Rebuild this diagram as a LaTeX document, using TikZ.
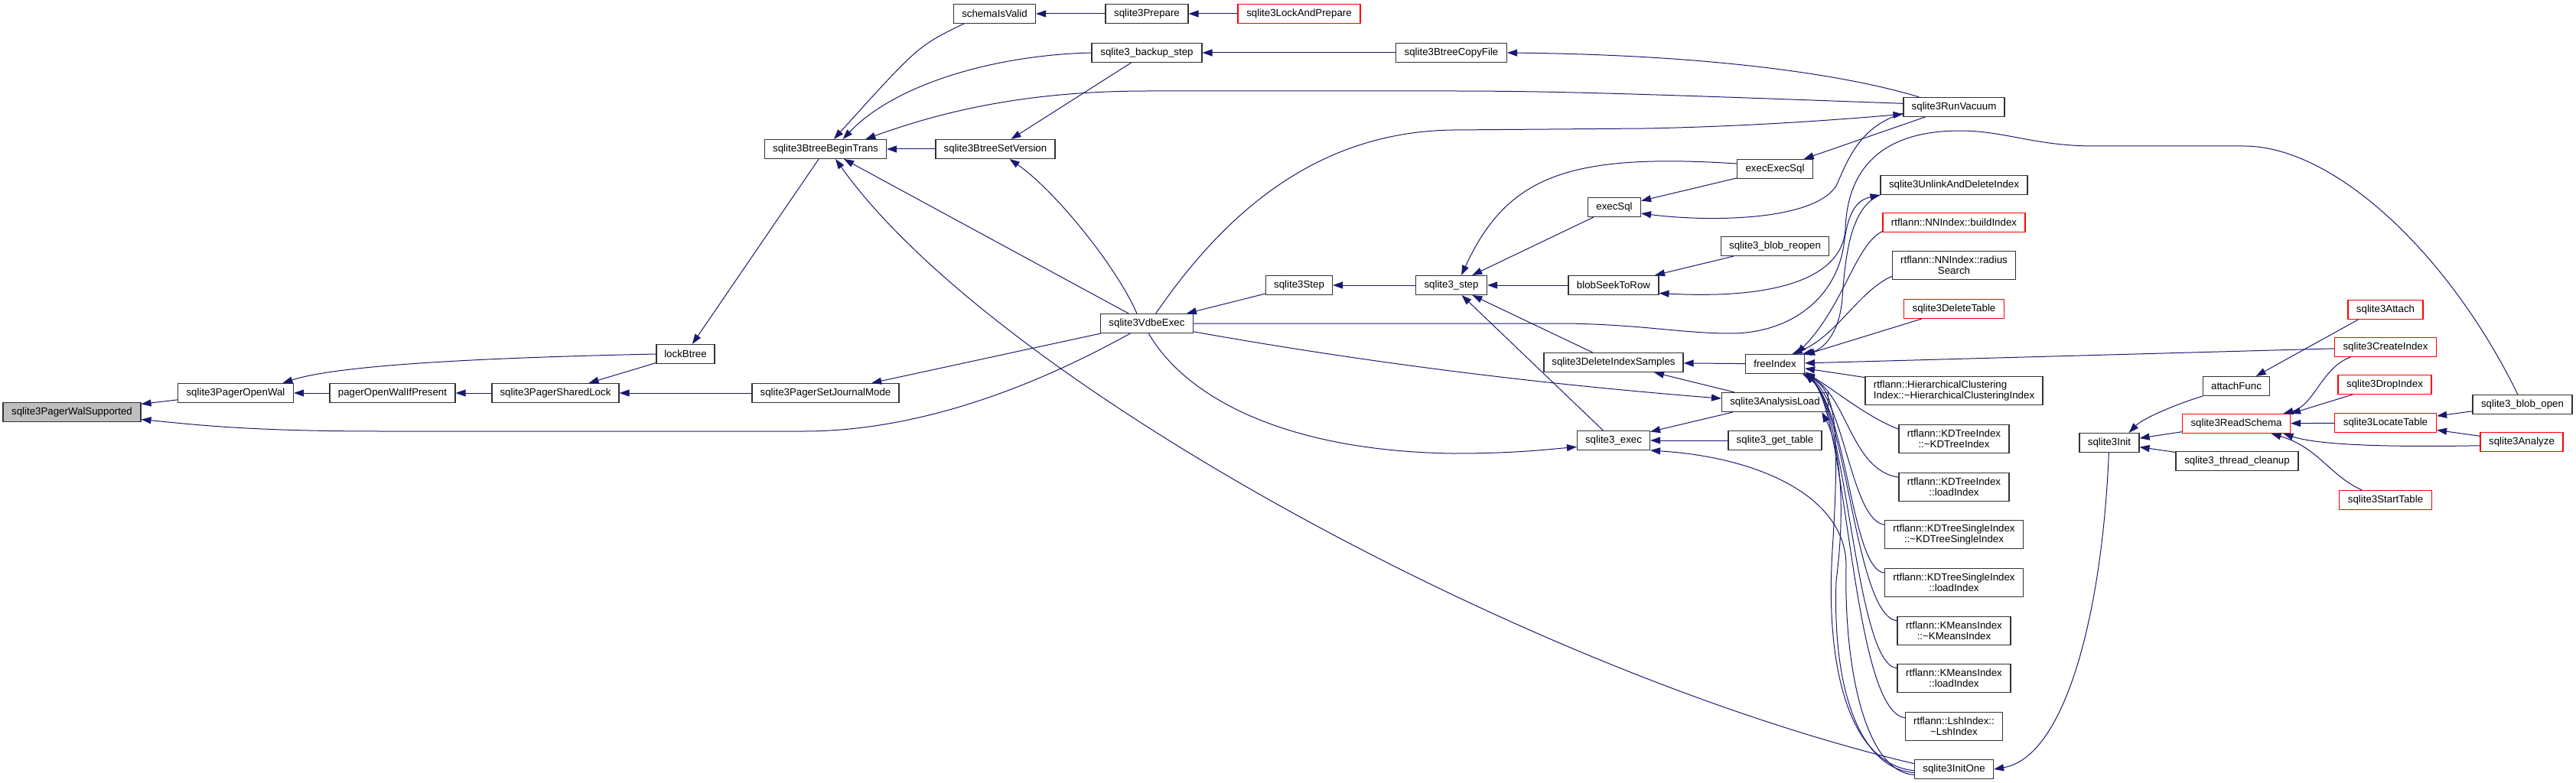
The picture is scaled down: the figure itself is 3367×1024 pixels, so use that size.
\documentclass[tikz,border=0pt]{standalone}
\usepackage{fontspec}
\setmainfont{Liberation Sans}
\usepackage{tikz}
\usetikzlibrary{arrows.meta}
\definecolor{callblue}{RGB}{25,25,112}
\newcommand\dxfont{\fontsize{13.3}{13.6}\selectfont}
\tikzset{
  fn/.style={draw=black!80,line width=1.1pt,fill=white,rectangle,
    inner xsep=3pt,inner ysep=2pt,minimum height=25pt,font=\dxfont,align=center},
  fnred/.style={fn,draw=red},
  fnroot/.style={fn,fill=black!25},
  tall/.style={minimum height=37pt},
  wd/.style={minimum width=#1pt},
  call/.style={-{Triangle[length=13pt,width=9pt]},draw=callblue,line width=1pt},
}

\begin{document}
\begin{tikzpicture}[x=1pt,y=-1pt]
  \useasboundingbox (0,0) rectangle (3367,1024);
  \node[fnroot,wd=180] (walsup) at (94,539) {sqlite3PagerWalSupported};
  \node[fn,wd=151] (openwal) at (308,514) {sqlite3PagerOpenWal};
  \node[fn,wd=164] (openwalif) at (513,514) {pagerOpenWalIfPresent};
  \node[fn,wd=166] (sharedlock) at (726,514) {sqlite3PagerSharedLock};
  \node[fn,wd=76] (lockbtree) at (896,463) {lockBtree};
  \node[fn,wd=192] (journalmode) at (1079,514) {sqlite3PagerSetJournalMode};
  \node[fn,wd=159] (begintrans) at (1079,195) {sqlite3BtreeBeginTrans};
  \node[fn,wd=107] (schemavalid) at (1300,18) {schemaIsValid};
  \node[fn,wd=156] (setversion) at (1301,195) {sqlite3BtreeSetVersion};
  \node[fn,wd=108] (prepare) at (1499,18) {sqlite3Prepare};
  \node[fnred,wd=160] (lockprepare) at (1698,18) {sqlite3LockAndPrepare};
  \node[fn,wd=144] (backupstep) at (1499,69) {sqlite3\_backup\_step};
  \node[fn,wd=145] (copyfile) at (1897,69) {sqlite3BtreeCopyFile};
  \node[fn,wd=121] (vdbeexec) at (1499,423) {sqlite3VdbeExec};
  \node[fn,wd=87] (step3) at (1698,373) {sqlite3Step};
  \node[fn,wd=93] (step) at (1897,373) {sqlite3\_step};
  \node[fn,wd=132] (runvacuum) at (2554,140) {sqlite3RunVacuum};
  \node[fn,wd=99] (execexecsql) at (2320,221) {execExecSql};
  \node[fn,wd=69] (execsql) at (2110,271) {execSql};
  \node[fn,wd=141] (blobreopen) at (2320,322) {sqlite3\_blob\_reopen};
  \node[fn,wd=118] (blobseek) at (2109,373) {blobSeekToRow};
  \node[fn,wd=192] (unlinkidx) at (2554,242) {sqlite3UnlinkAndDeleteIndex};
  \node[fnred,wd=186] (nnbuild) at (2554,291) {rtflann::NNIndex::buildIndex};
  \node[fn,tall,wd=161] (nnradius) at (2554,347) {rtflann::NNIndex::radius\\Search};
  \node[fnred,wd=131] (deltable) at (2554,404) {sqlite3DeleteTable};
  \node[fn,wd=182] (delsamples) at (2109,474) {sqlite3DeleteIndexSamples};
  \node[fn,wd=77] (freeidx) at (2320,476) {freeIndex};
  \node[fn,wd=139] (analysisload) at (2320,526) {sqlite3AnalysisLoad};
  \node[fn,tall,wd=232,align=left] (hcindex) at (2554,511) {rtflann::HierarchicalClustering\\Index::\textasciitilde HierarchicalClusteringIndex};
  \node[fn,wd=95] (exec) at (2109,576) {sqlite3\_exec};
  \node[fn,wd=122] (gettable) at (2320,576) {sqlite3\_get\_table};
  \node[fn,tall,wd=144] (kdtdtor) at (2554,574) {rtflann::KDTreeIndex\\::\textasciitilde KDTreeIndex};
  \node[fn,tall,wd=144] (kdtload) at (2554,637) {rtflann::KDTreeIndex\\::loadIndex};
  \node[fn,tall,wd=181] (kdsdtor) at (2554,699) {rtflann::KDTreeSingleIndex\\::\textasciitilde KDTreeSingleIndex};
  \node[fn,tall,wd=181] (kdsload) at (2554,762) {rtflann::KDTreeSingleIndex\\::loadIndex};
  \node[fn,tall,wd=148] (kmdtor) at (2554,825) {rtflann::KMeansIndex\\::\textasciitilde KMeansIndex};
  \node[fn,tall,wd=148] (kmload) at (2554,887) {rtflann::KMeansIndex\\::loadIndex};
  \node[fn,tall,wd=127] (lshdtor) at (2554,950) {rtflann::LshIndex::\\\textasciitilde LshIndex};
  \node[fn,wd=103] (initone) at (2554,1006) {sqlite3InitOne};
  \node[fn,wd=78] (init) at (2757,579) {sqlite3Init};
  \node[fn,wd=87] (attachfunc) at (2923,505) {attachFunc};
  \node[fn,wd=160] (threadcleanup) at (2924,603) {sqlite3\_thread\_cleanup};
  \node[fnred,wd=141] (readschema) at (2923,554) {sqlite3ReadSchema};
  \node[fnred,wd=98] (attach) at (3118,405) {sqlite3Attach};
  \node[fnred,wd=133] (createidx) at (3118,454) {sqlite3CreateIndex};
  \node[fnred,wd=122] (dropidx) at (3117,503) {sqlite3DropIndex};
  \node[fnred,wd=133] (locatetable) at (3118,553) {sqlite3LocateTable};
  \node[fnred,wd=121] (starttable) at (3118,654) {sqlite3StartTable};
  \node[fn,wd=130] (blobopen) at (3297,529) {sqlite3\_blob\_open};
  \node[fnred,wd=108] (analyze) at (3296,578) {sqlite3Analyze};

  \draw[call] (openwal) -- (walsup);
  \draw[call] (vdbeexec.-149) .. controls (1380,490) and (1220,564) .. (1050,564) -- (500,564) .. controls (330,564) and (260,556) .. (walsup.-6);
  \draw[call] (openwalif) -- (openwal);
  \draw[call] (lockbtree.west) .. controls (620,468) and (440,478) .. (openwal.12);
  \draw[call] (sharedlock) -- (openwalif);
  \draw[call] (lockbtree) -- (sharedlock);
  \draw[call] (journalmode) -- (sharedlock);
  \draw[call] (begintrans) -- (lockbtree);
  \draw[call] (schemavalid.-162) .. controls (1200,60) .. (begintrans.50);
  \draw[call] (backupstep.west) .. controls (1300,72) and (1170,110) .. (begintrans.30);
  \draw[call] (runvacuum.176) .. controls (2200,125) and (2050,119) .. (1900,119) -- (1500,119) .. controls (1330,119) and (1220,150) .. (begintrans.14);
  \draw[call] (setversion) -- (begintrans);
  \draw[call] (vdbeexec) -- (begintrans);
  \draw[call] (initone.172) .. controls (2000,880) and (1300,500) .. (begintrans.-45);
  \draw[call] (backupstep) -- (setversion);
  \draw[call] (vdbeexec.135) .. controls (1460,350) and (1380,250) .. (setversion.-35);
  \draw[call] (prepare) -- (schemavalid);
  \draw[call] (lockprepare) -- (prepare);
  \draw[call] (copyfile) -- (backupstep);
  \draw[call] (runvacuum.164) .. controls (2420,100) and (2250,72) .. (copyfile.east);
  \draw[call] (vdbeexec) -- (journalmode);
  \draw[call] (step3) -- (vdbeexec);
  \draw[call] (vdbeexec.48) .. controls (1600,280) and (1720,172) .. (1900,170) -- (2150,168) .. controls (2300,165) and (2420,155) .. (runvacuum.188);
  \draw[call] (step) -- (step3);
  \draw[call] (execsql) -- (step);
  \draw[call] (execexecsql.172) .. controls (2050,200) and (1970,230) .. (step.45);
  \draw[call] (blobseek) -- (step);
  \draw[call] (delsamples) -- (step);
  \draw[call] (exec) -- (step);
  \draw[call] (execexecsql) -- (execsql);
  \draw[call] (runvacuum.187) .. controls (2430,165) and (2415,210) .. (2400,243) .. controls (2370,290) and (2230,290) .. (execsql.-13);
  \draw[call] (runvacuum) -- (execexecsql);
  \draw[call] (blobreopen) -- (blobseek);
  \draw[call] (blobopen.115) .. controls (3200,330) and (3050,191) .. (2933,191) -- (2737,191) .. controls (2660,191) and (2620,171) .. (2562,171) .. controls (2450,171) and (2414,230) .. (2412,300) .. controls (2408,360) and (2330,392) .. (blobseek.-10);
  \draw[call] (vdbeexec.east) -- (2050,423) .. controls (2150,425) and (2200,436) .. (2262,436) .. controls (2340,436) and (2400,390) .. (2410,320) .. controls (2415,280) and (2425,262) .. (unlinkidx.south west);
  \draw[call] (vdbeexec.-10) .. controls (1790,475) and (2020,503) .. (analysisload.176);
  \draw[call] (vdbeexec.-80) .. controls (1550,520) and (1680,590) .. (1900,593) .. controls (1980,593) and (2020,588) .. (exec.190);
  \draw[call] (freeidx) -- (delsamples);
  \draw[call] (analysisload) -- (delsamples);
  \draw[call] (analysisload) -- (exec);
  \draw[call] (gettable) -- (exec);
  \draw[call] (initone.188) .. controls (2440,1010) and (2410,880) .. (2413,740) .. controls (2413,650) and (2300,598) .. (exec.south east);
  \draw[call] (initone.185) .. controls (2430,1005) and (2395,900) .. (2400,760) .. controls (2415,640) and (2400,575) .. (analysisload.-12);
  \draw[call] (initone.182) .. controls (2420,1000) and (2385,880) .. (2395,720) .. controls (2405,560) and (2400,510) .. (freeidx.-20);
  \draw[call] (unlinkidx.south west) .. controls (2420,270) and (2412,330) .. (2408,390) .. controls (2404,440) and (2380,458) .. (freeidx.20);
  \draw[call] (nnbuild.-173) .. controls (2425,320) and (2410,400) .. (freeidx.25);
  \draw[call] (nnradius.-170) .. controls (2430,380) and (2400,440) .. (freeidx.30);
  \draw[call] (deltable) -- (freeidx);
  \draw[call] (createidx) -- (freeidx);
  \draw[call] (hcindex) -- (freeidx);
  \draw[call] (kdtdtor.170) .. controls (2440,545) and (2405,515) .. (freeidx.-15);
  \draw[call] (kdtload.170) .. controls (2420,615) and (2415,520) .. (freeidx.-18);
  \draw[call] (kdsdtor.172) .. controls (2420,680) and (2412,530) .. (freeidx.-18);
  \draw[call] (kdsload.172) .. controls (2420,745) and (2415,540) .. (freeidx.-18);
  \draw[call] (kmdtor.170) .. controls (2425,805) and (2415,540) .. (freeidx.-18);
  \draw[call] (kmload.170) .. controls (2425,870) and (2415,540) .. (freeidx.-18);
  \draw[call] (lshdtor.170) .. controls (2420,930) and (2415,540) .. (freeidx.-18);
  \draw[call] (init.-93) .. controls (2748,800) and (2700,990) .. (initone.east);
  \draw[call] (readschema) -- (init);
  \draw[call] (threadcleanup) -- (init);
  \draw[call] (attachfunc.south west) .. controls (2840,530) and (2800,548) .. (init.27);
  \draw[call] (attach.-160) -- (attachfunc.27);
  \draw[call] (createidx.-164) .. controls (3035,480) and (3025,530) .. (readschema.12);
  \draw[call] (dropidx) -- (readschema.north east);
  \draw[call] (locatetable) -- (readschema);
  \draw[call] (analyze.185) .. controls (3120,585) and (3030,582) .. (readschema.-12);
  \draw[call] (starttable.157) .. controls (3045,622) and (3030,585) .. (readschema.-16);
  \draw[call] (blobopen) -- (locatetable);
  \draw[call] (analyze) -- (locatetable);
\end{tikzpicture}
\end{document}
